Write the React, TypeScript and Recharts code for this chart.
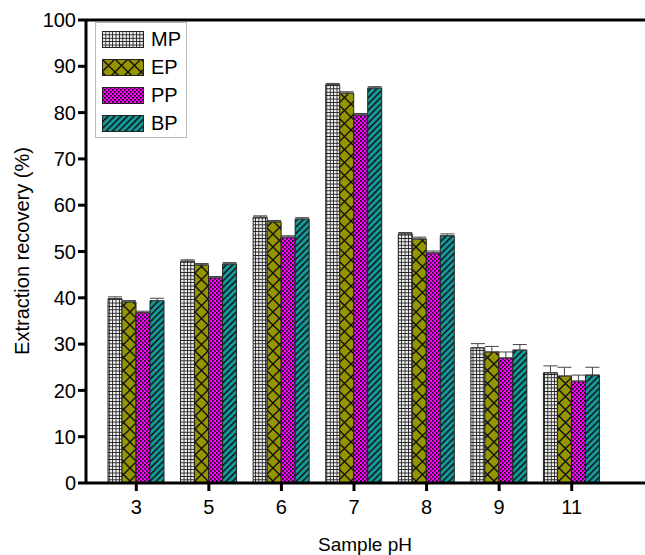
import React from "react";
import { BarChart, Bar, XAxis, YAxis, ErrorBar, Legend, ReferenceLine } from "recharts";

const categories = ["3", "5", "6", "7", "8", "9", "11"];
const mpValues = [39.8, 47.9, 57.4, 86.0, 53.8, 29.2, 23.8];
const epValues = [39.1, 47.1, 56.4, 84.2, 52.7, 28.3, 23.1];
const ppValues = [36.8, 44.3, 53.1, 79.5, 49.7, 27.0, 22.0];
const bpValues = [39.4, 47.3, 57.0, 85.3, 53.4, 28.7, 23.3];
const mpErrors = [0.4, 0.3, 0.3, 0.3, 0.3, 0.9, 1.5];
const epErrors = [0.3, 0.3, 0.3, 0.3, 0.4, 1.2, 1.9];
const ppErrors = [0.3, 0.3, 0.3, 0.3, 0.4, 1.3, 1.3];
const bpErrors = [0.5, 0.3, 0.3, 0.3, 0.4, 1.2, 1.7];
const yTicks = [0, 10, 20, 30, 40, 50, 60, 70, 80, 90, 100];
const seriesNames = ["MP", "EP", "PP", "BP"];

const data = categories.map((c, i) => ({
  ph: c,
  MP: mpValues[i],
  EP: epValues[i],
  PP: ppValues[i],
  BP: bpValues[i],
  mpErr: [0, mpErrors[i]],
  epErr: [0, epErrors[i]],
  ppErr: [0, ppErrors[i]],
  bpErr: [0, bpErrors[i]],
}));

const FONT = "'Liberation Sans', Arial, Helvetica, sans-serif";

const PatternDefs = ({ prefix }: { prefix: string }) => (
  <defs>
    <pattern id={`${prefix}-mp`} width="3.4" height="3.4" patternUnits="userSpaceOnUse">
      <rect width="3.4" height="3.4" fill="#eeeeee" />
      <path d="M0 0 H3.4 M0 0 V3.4" stroke="#151515" strokeWidth="1.6" />
    </pattern>
    <pattern id={`${prefix}-ep`} width="13" height="13" patternUnits="userSpaceOnUse">
      <rect width="13" height="13" fill="#959500" />
      <path d="M0 0 L13 13 M13 0 L0 13" stroke="#111" strokeWidth="1.4" />
    </pattern>
    <pattern id={`${prefix}-pp`} width="4" height="4" patternUnits="userSpaceOnUse">
      <rect width="4" height="4" fill="#ff00ff" />
      <rect x="0" y="0" width="1.7" height="1.7" fill="#111" />
      <rect x="2" y="2" width="1.7" height="1.7" fill="#111" />
    </pattern>
    <pattern id={`${prefix}-bp`} width="4.5" height="4.5" patternUnits="userSpaceOnUse" patternTransform="rotate(45)">
      <rect width="4.5" height="4.5" fill="#139b9b" />
      <rect x="0" y="0" width="1.5" height="4.5" fill="#111" />
    </pattern>
  </defs>
);

const patternKeys = ["mp", "ep", "pp", "bp"];

const LegendBox = () => (
  <div
    style={{
      boxSizing: "border-box",
      border: "1px solid #bbbbbb",
      background: "#fff",
      padding: "2px 4px 0px 6px",
      fontFamily: FONT,
      fontSize: 20,
      color: "#000",
      width: 92,
    }}
  >
    {seriesNames.map((n, i) => (
      <div key={n} style={{ display: "flex", alignItems: "center", height: 28 }}>
        <svg width={42} height={17} style={{ marginRight: 7, flexShrink: 0 }}>
          <PatternDefs prefix={`lg${i}`} />
          <rect x={0.5} y={0.5} width={41} height={16} fill={`url(#lg${i}-${patternKeys[i]})`} stroke="#222" strokeWidth={1} />
        </svg>
        <span>{n}</span>
      </div>
    ))}
  </div>
);

const YLabel = () => (
  <text
    x={22}
    y={251}
    transform="rotate(-90 22 251)"
    textAnchor="middle"
    dominantBaseline="central"
    fontFamily={FONT}
    fontSize={20}
    fill="#000"
  >
    Extraction recovery (%)
  </text>
);

const XLabel = () => (
  <text x={365} y={551} textAnchor="middle" fontFamily={FONT} fontSize={19} fill="#000">
    Sample pH
  </text>
);

export default function App() {
  return (
    <div style={{ position: "absolute", left: 0, top: 0, width: 645, height: 555, background: "#fff" }}>
      <BarChart
        width={645}
        height={555}
        data={data}
        margin={{ top: 20, right: 0, bottom: 0, left: 30 }}
        barGap={0}
        barCategoryGap={8}
      >
        <PatternDefs prefix="bar" />
        <XAxis
          dataKey="ph"
          height={72}
          padding={{ left: 14, right: 37 }}
          axisLine={{ stroke: "#000", strokeWidth: 3 }}
          tickLine={{ stroke: "#000", strokeWidth: 3 }}
          tickSize={8}
          tickMargin={9}
          tick={{ fill: "#000", fontSize: 20, fontFamily: FONT }}
          label={<XLabel />}
        />
        <YAxis
          width={56}
          domain={[0, 100]}
          ticks={yTicks}
          interval={0}
          axisLine={{ stroke: "#000", strokeWidth: 3 }}
          tickLine={{ stroke: "#000", strokeWidth: 3 }}
          tickSize={8}
          tickMargin={2}
          tick={{ fill: "#000", fontSize: 20, fontFamily: FONT }}
          label={<YLabel />}
        />
        <ReferenceLine y={100} stroke="#000" strokeWidth={3} />
        <Legend
          layout="horizontal"
          verticalAlign="middle"
          align="center"
          content={() => <LegendBox />}
          wrapperStyle={{ position: "absolute", left: 95, top: 22, width: "auto", height: "auto" }}
        />
        <Bar dataKey="MP" fill="url(#bar-mp)" stroke="#222" strokeWidth={1} isAnimationActive={false}>
          <ErrorBar dataKey="mpErr" width={7} stroke="#444" strokeWidth={1} direction="y" />
        </Bar>
        <Bar dataKey="EP" fill="url(#bar-ep)" stroke="#222" strokeWidth={1} isAnimationActive={false}>
          <ErrorBar dataKey="epErr" width={7} stroke="#444" strokeWidth={1} direction="y" />
        </Bar>
        <Bar dataKey="PP" fill="url(#bar-pp)" stroke="#222" strokeWidth={1} isAnimationActive={false}>
          <ErrorBar dataKey="ppErr" width={7} stroke="#444" strokeWidth={1} direction="y" />
        </Bar>
        <Bar dataKey="BP" fill="url(#bar-bp)" stroke="#222" strokeWidth={1} isAnimationActive={false}>
          <ErrorBar dataKey="bpErr" width={7} stroke="#444" strokeWidth={1} direction="y" />
        </Bar>
      </BarChart>
    </div>
  );
}
